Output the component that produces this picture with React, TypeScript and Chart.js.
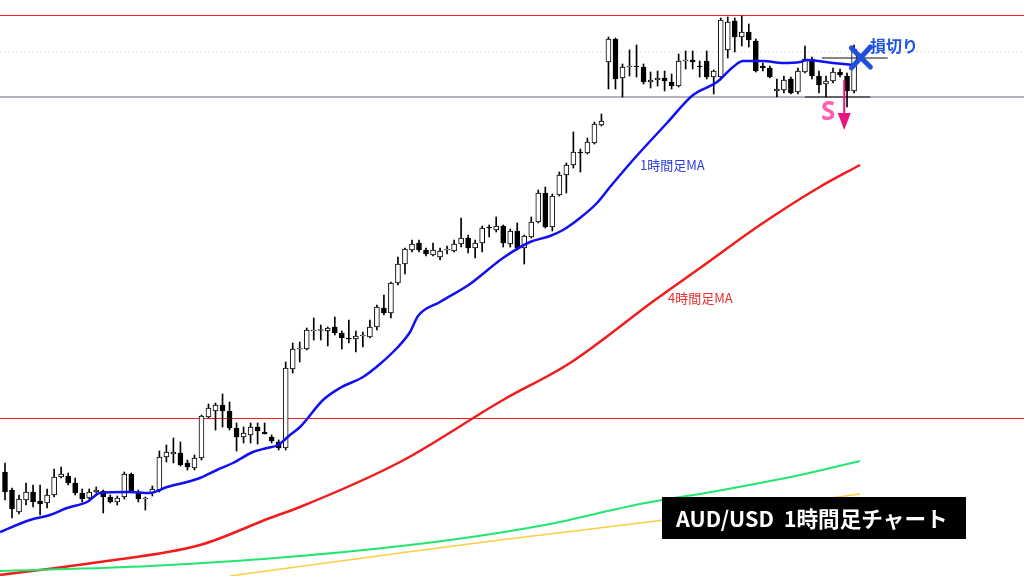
import React, { useEffect, useRef } from "react";
import { Chart, registerables } from "chart.js";

Chart.register(...registerables);

// ---- Candle data (AUD/USD 1h, price units of the picture's vertical scale) ----
const opens = [
  104, 86, 64, 76, 84, 75, 73, 81, 99, 100,
  93, 83, 78, 84, 85, 79, 74, 79, 102, 84,
  77, 83, 86, 119, 122, 123, 113, 108, 118, 159,
  165, 171, 165, 148, 139, 141, 149, 144, 139, 134,
  128, 207, 227, 227, 245, 246, 245, 249, 243, 238,
  237, 240, 239, 249, 268, 263, 293, 312, 326, 333,
  326, 321, 319, 326, 325, 332, 338, 328, 333, 349,
  346, 350, 332, 345, 328, 339, 354, 383, 349, 381,
  401, 411, 424, 423, 433, 451, 514, 537, 498, 509,
  510, 509, 494, 496, 498, 494, 490, 515, 516, 510,
  515, 499, 499, 526, 555, 539, 544, 535, 510, 508,
  485, 486, 497, 484, 504, 517, 500, 492, 495, 504,
  500, 485,
];
const highs = [
  113, 88, 81, 93, 91, 91, 87, 107, 109, 103,
  98, 87, 87, 89, 86, 81, 80, 104, 103, 86,
  79, 90, 125, 131, 138, 134, 116, 121, 161, 172,
  173, 182, 174, 153, 149, 153, 153, 153, 141, 136,
  214, 233, 234, 248, 258, 251, 249, 259, 245, 256,
  245, 244, 256, 271, 281, 294, 319, 328, 336, 336,
  328, 333, 328, 330, 336, 358, 341, 336, 350, 351,
  359, 351, 347, 353, 341, 359, 386, 389, 382, 404,
  413, 444, 427, 438, 454, 462, 539, 538, 512, 526,
  531, 512, 504, 505, 505, 502, 522, 525, 525, 515,
  525, 506, 558, 559, 558, 560, 552, 537, 513, 510,
  497, 500, 499, 508, 530, 519, 505, 500, 508, 507,
  503, 531,
];
const lows = [
  76, 58, 62, 71, 69, 61, 68, 79, 98, 91,
  81, 74, 77, 83, 63, 73, 71, 77, 84, 74,
  66, 80, 84, 114, 113, 110, 106, 106, 116, 158,
  146, 149, 146, 125, 133, 133, 132, 142, 133, 126,
  126, 203, 214, 226, 236, 236, 230, 241, 227, 233,
  224, 229, 238, 246, 261, 258, 291, 302, 324, 324,
  320, 320, 316, 322, 324, 329, 323, 318, 324, 339,
  344, 329, 329, 326, 312, 338, 353, 348, 345, 380,
  383, 408, 404, 422, 432, 450, 487, 487, 479, 500,
  499, 492, 488, 490, 485, 487, 489, 507, 507, 499,
  497, 482, 496, 518, 524, 530, 529, 504, 505, 498,
  479, 483, 482, 482, 503, 497, 483, 479, 493, 499,
  469, 483,
];
const closes = [
  84, 67, 77, 84, 74, 72, 81, 99, 102, 93,
  83, 77, 84, 86, 79, 74, 78, 102, 84, 77,
  78, 87, 119, 124, 124, 111, 109, 118, 160, 168,
  171, 165, 148, 139, 143, 149, 145, 142, 135, 128,
  208, 227, 228, 246, 246, 246, 248, 243, 238, 237,
  240, 241, 249, 269, 263, 293, 312, 327, 332, 326,
  322, 326, 325, 327, 332, 338, 328, 333, 348, 348,
  350, 333, 345, 328, 340, 354, 383, 349, 380, 401,
  411, 424, 423, 434, 452, 455, 537, 497, 509, 510,
  509, 494, 496, 498, 495, 490, 515, 516, 514, 509,
  499, 505, 556, 554, 539, 544, 536, 505, 508, 499,
  487, 496, 483, 505, 517, 500, 491, 495, 504, 501,
  485, 527,
];

// ---- Moving averages: positions in candle-index units, values in price units ----
const ma1hPos = [-0.71, 3.56, 6.41, 8.84, 11.69, 13.54, 17.39, 20.66, 23.09, 25.94, 27.79, 30.21, 32.49, 35.34, 37.34, 38.91, 40.62, 42.04, 45.32, 47.74, 51.02, 53.44, 55.86, 57.72, 58.86, 61.99, 66.27, 70.97, 74.82, 77.67, 79.52, 81.94, 84.37, 86.22, 89.5, 94.34, 98.05, 101.47, 103.75, 105.17, 108.02, 110.87, 113.3, 114.29, 117.99, 120.84];
const ma1hValues = [44, 56, 61, 68, 74, 83, 84, 83, 89, 94, 98, 106, 113, 124, 128, 131, 141, 149, 176, 188, 199, 212, 228, 244, 260, 274, 292, 318, 334, 340, 346, 358, 373, 389, 416, 453, 481, 494, 509, 515, 515, 513, 514, 516, 513, 511];

const ma4hPos = [-0.71, 13.54, 27.79, 37.77, 42.04, 56.29, 70.97, 80.52, 92.63, 99.05, 107.6, 116.1, 121.85];
const ma4hValues = [1, 14, 31, 58, 69, 114, 176, 213, 276, 308, 351, 389, 411];

const maGreenPos = [-0.71, 20.66, 42.04, 63.42, 77.67, 90.49, 101.47, 113.3, 121.85];
const maGreenValues = [5, 10, 20, 36, 52, 72, 85, 101, 115];

const maYellowPos = [32.07, 56.29, 70.54, 90.49, 106.17, 121.85];
const maYellowValues = [0, 23, 36, 53, 67, 82];

// ---- Horizontal levels ----
const redLevels = [560.5, 157.5];
const greyLevel = 479;
const faintLevel = 524;
const stopLevel = 518;
const stopRange = [116.4, 125.8];
const entryLevel = 479;
const entryRange = [114.0, 123.3];
const entryIndex = 119.6;

// ---- Text ----
const titleText = "AUD/USD  1時間足チャート";
const ma1hLabel = "1時間足MA";
const ma4hLabel = "4時間足MA";
const stopLabel = "損切り";
const sellLabel = "S";

const X_MIN = -0.7126;
const X_MAX = X_MIN + 1024 / 7.017;
const Y_MIN = 0;
const Y_MAX = 576;

const pts = (xs: number[], ys: number[]) => xs.map((x, i) => ({ x, y: ys[i] }));
const hline = (v: number, a = X_MIN, b = X_MAX) => [
  { x: a, y: v },
  { x: b, y: v },
];

const lineDs = (data: any[], color: string, width: number, order = 0, dash: number[] = []) => ({
  type: "line" as const,
  data,
  borderColor: color,
  borderWidth: width,
  borderDash: dash,
  pointRadius: 0,
  fill: false,
  cubicInterpolationMode: "monotone" as const,
  order,
});

const annotationPlugin = {
  id: "annotations",
  afterDatasetsDraw(chart: any) {
    const ctx = chart.ctx as CanvasRenderingContext2D;
    const xs = chart.scales.x;
    const ys = chart.scales.y;
    ctx.save();

    // MA labels
    ctx.textBaseline = "middle";
    ctx.textAlign = "left";
    ctx.font = '13px "Noto Sans CJK JP"';
    ctx.fillStyle = "#2b3de6";
    ctx.fillText(ma1hLabel, 640, 165);
    ctx.fillStyle = "#ec2d2d";
    ctx.fillText(ma4hLabel, 668, 298);

    // Stop-loss X mark
    const sx = xs.getPixelForValue(stopRange[0] + 5.5);
    const sy = ys.getPixelForValue(stopLevel);
    ctx.strokeStyle = "#1f4fdc";
    ctx.lineWidth = 5;
    ctx.lineCap = "round";
    ctx.beginPath();
    ctx.moveTo(sx - 9, sy - 10);
    ctx.lineTo(sx + 10, sy + 9);
    ctx.moveTo(sx + 10, sy - 11);
    ctx.lineTo(sx - 9, sy + 10);
    ctx.stroke();

    ctx.font = 'bold 16px "Noto Sans CJK JP"';
    ctx.fillStyle = "#1f55e6";
    ctx.fillText(stopLabel, 870, 46);

    // Sell arrow
    const ax = xs.getPixelForValue(entryIndex);
    ctx.strokeStyle = "#e8147f";
    ctx.lineWidth = 2;
    ctx.lineCap = "butt";
    ctx.beginPath();
    ctx.moveTo(ax, 80);
    ctx.lineTo(ax, 116);
    ctx.stroke();
    ctx.fillStyle = "#e8147f";
    ctx.beginPath();
    ctx.moveTo(ax - 6.5, 113);
    ctx.lineTo(ax + 6.5, 113);
    ctx.lineTo(ax, 130);
    ctx.closePath();
    ctx.fill();

    ctx.font = 'bold 26px "Noto Sans"';
    ctx.fillStyle = "#ff5fae";
    ctx.textBaseline = "alphabetic";
    ctx.fillText(sellLabel, 821, 120);

    // Title box
    ctx.fillStyle = "#000000";
    ctx.fillRect(662, 497, 304, 42);
    ctx.fillStyle = "#ffffff";
    ctx.font = 'bold 21.6px "Noto Sans CJK JP"';
    ctx.textBaseline = "middle";
    ctx.fillText(titleText, 676, 519);

    ctx.restore();
  },
};

export default function App() {
  const ref = useRef<HTMLCanvasElement>(null);

  useEffect(() => {
    if (!ref.current) return;
    const wickData = lows.map((l, i) => ({ x: i, y: [l, highs[i]] }));
    const bodyData = opens.map((o, i) => {
      const c = closes[i];
      let lo = Math.min(o, c);
      let hi = Math.max(o, c);
      if (hi - lo < 1) {
        const m = (hi + lo) / 2;
        lo = m - 0.5;
        hi = m + 0.5;
      }
      return { x: i, y: [lo, hi] };
    });
    const bodyColors = opens.map((o, i) => (closes[i] >= o ? "#ffffff" : "#000000"));

    const chart = new Chart(ref.current, {
      type: "bar",
      data: {
        datasets: [
          lineDs(hline(redLevels[0]), "#ff1e1e", 1, 5),
          lineDs(hline(redLevels[1]), "#ff1e1e", 1, 5),
          lineDs(hline(faintLevel), "#f6d6d6", 1, 5, [2, 2]),
          lineDs(hline(greyLevel), "#9c9cae", 1.5, 5),
          {
            type: "bar",
            data: wickData,
            backgroundColor: "#000000",
            barThickness: 1,
            grouped: false,
            order: 4,
          } as any,
          {
            type: "bar",
            data: bodyData,
            backgroundColor: bodyColors,
            borderColor: "#000000",
            borderWidth: 1,
            borderSkipped: false,
            barThickness: 5,
            grouped: false,
            order: 3,
          } as any,
          lineDs(hline(stopLevel, stopRange[0], stopRange[1]), "#111111", 1.2, 2),
          lineDs(hline(entryLevel, entryRange[0], entryRange[1]), "#111111", 1.2, 2),
          lineDs(pts(maYellowPos, maYellowValues), "#f7cf45", 1.5, 1),
          lineDs(pts(maGreenPos, maGreenValues), "#22e66e", 2, 1),
          lineDs(pts(ma4hPos, ma4hValues), "#f21c1c", 2.5, 1),
          lineDs(pts(ma1hPos, ma1hValues), "#1010f2", 2.5, 0),
        ] as any,
      },
      options: {
        animation: false,
        responsive: false,
        devicePixelRatio: 1,
        layout: { padding: 0 },
        plugins: { legend: { display: false }, tooltip: { enabled: false } },
        scales: {
          x: { type: "linear", min: X_MIN, max: X_MAX, display: false, offset: false },
          y: { type: "linear", min: Y_MIN, max: Y_MAX, display: false },
        },
      } as any,
      plugins: [annotationPlugin],
    });
    return () => chart.destroy();
  }, []);

  return (
    <div style={{ position: "absolute", left: 0, top: 0, width: 1024, height: 576, background: "#ffffff" }}>
      <canvas ref={ref} width={1024} height={576} style={{ display: "block" }} />
    </div>
  );
}
